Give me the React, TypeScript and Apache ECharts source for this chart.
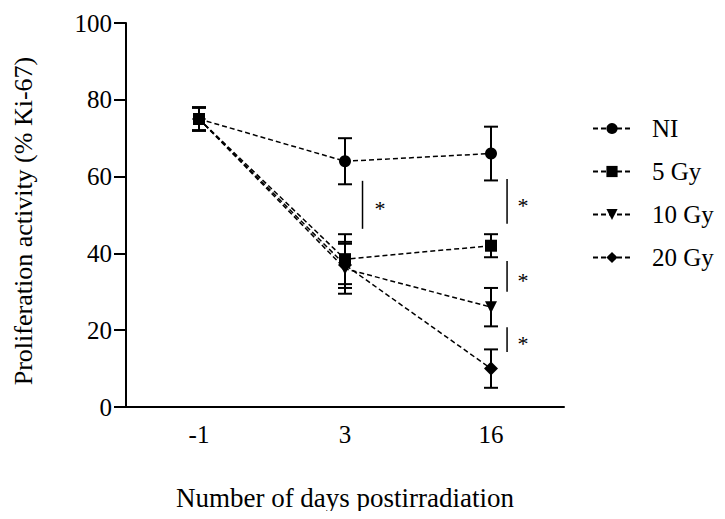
import React, { useEffect, useRef } from "react";
import * as echarts from "echarts";

const categories = ["-1", "3", "16"];
const seriesNames = ["NI", "5 Gy", "10 Gy", "20 Gy"];
const niMean = [75, 64, 66];
const niErr = [3, 6, 7];
const gy5Mean = [75, 38.5, 42];
const gy5Err = [3, 6.5, 3];
const gy10Mean = [75, 36, 26];
const gy10Err = [3, 6.5, 5];
const gy20Mean = [75, 37, 10];
const gy20Err = [3, 6, 5];
const yTicks = [0, 20, 40, 60, 80, 100];
// significance brackets: [x position on a -0.5..2.5 scale, low, high]
const brackets = [
  [1.12, 46.4, 58.9],
  [2.11, 47.7, 59.4],
  [2.11, 30, 38],
  [2.11, 14.3, 20.8],
];
const asteriskX = [1.24, 2.22, 2.22, 2.22];

const FONT = "Liberation Serif";

export default function App() {
  const ref = useRef<HTMLDivElement>(null);
  useEffect(() => {
    const chart = echarts.init(ref.current!, null, { renderer: "svg" });
    const means = [niMean, gy5Mean, gy10Mean, gy20Mean];
    const errs = [niErr, gy5Err, gy10Err, gy20Err];
    const symbols = ["circle", "rect", "triangle", "diamond"];
    const sizes = [12, 12, 12, 14];
    const rotates = [0, 0, 180, 0];

    const lineSeries = seriesNames.map((name, i) => ({
      name,
      type: "line",
      xAxisIndex: 0,
      data: means[i],
      symbol: symbols[i],
      symbolSize: sizes[i],
      symbolRotate: rotates[i],
      itemStyle: { color: "#000" },
      lineStyle: { color: "#000", width: 1.5, type: [5, 3] },
      z: 3,
    }));

    const errData: number[][] = [];
    means.forEach((m, i) =>
      m.forEach((v, j) => errData.push([j, v - errs[i][j], v + errs[i][j]]))
    );

    const errSeries = {
      type: "custom",
      xAxisIndex: 0,
      data: errData,
      z: 2,
      renderItem: (params: any, api: any) => {
        const x = api.value(0);
        const lo = api.coord([x, api.value(1)]);
        const hi = api.coord([x, api.value(2)]);
        const hw = 7;
        const style = { stroke: "#000", lineWidth: 2 };
        return {
          type: "group",
          children: [
            { type: "line", shape: { x1: lo[0], y1: lo[1], x2: hi[0], y2: hi[1] }, style },
            { type: "line", shape: { x1: lo[0] - hw, y1: lo[1], x2: lo[0] + hw, y2: lo[1] }, style },
            { type: "line", shape: { x1: hi[0] - hw, y1: hi[1], x2: hi[0] + hw, y2: hi[1] }, style },
          ],
        };
      },
    };

    const bracketData = brackets.map((b, i) => [b[0], b[1], b[2], asteriskX[i]]);
    const bracketSeries = {
      type: "custom",
      xAxisIndex: 1,
      data: bracketData,
      renderItem: (params: any, api: any) => {
        const lo = api.coord([api.value(0), api.value(1)]);
        const hi = api.coord([api.value(0), api.value(2)]);
        const mid = api.coord([api.value(3), (api.value(1) + api.value(2)) / 2]);
        return {
          type: "group",
          children: [
            { type: "line", shape: { x1: lo[0], y1: lo[1], x2: hi[0], y2: hi[1] }, style: { stroke: "#000", lineWidth: 1.5 } },
            {
              type: "text",
              x: mid[0],
              y: mid[1] + 4,
              style: { text: "*", fill: "#000", font: `22px "${FONT}"`, align: "center", verticalAlign: "middle" },
            },
          ],
        };
      },
    };

    chart.setOption({
      animation: false,
      textStyle: { fontFamily: FONT, color: "#000" },
      grid: { left: 126, right: 161, top: 23, bottom: 112 },
      legend: {
        orient: "vertical",
        left: 587,
        top: 111,
        data: seriesNames,
        itemWidth: 38,
        itemHeight: 14,
        itemGap: 18,
        textStyle: { fontFamily: FONT, fontSize: 25, color: "#000", padding: [0, 0, 0, 16] },
      },
      xAxis: [
        {
          type: "category",
          data: categories,
          boundaryGap: true,
          axisLine: { lineStyle: { color: "#000", width: 2 } },
          axisTick: { alignWithLabel: true, length: 11, lineStyle: { color: "#000", width: 2 } },
          axisLabel: { fontFamily: FONT, fontSize: 25, color: "#000", margin: 15 },
          name: "Number of days postirradiation",
          nameLocation: "middle",
          nameGap: 77,
          nameTextStyle: { fontFamily: FONT, fontSize: 27, color: "#000" },
        },
        { type: "value", min: -0.5, max: 2.5, show: false },
      ],
      yAxis: {
        type: "value",
        min: yTicks[0],
        max: yTicks[yTicks.length - 1],
        interval: 20,
        splitLine: { show: false },
        axisLine: { show: true, onZero: false, lineStyle: { color: "#000", width: 2 } },
        axisTick: { show: true, length: 12, lineStyle: { color: "#000", width: 2 } },
        axisLabel: { fontFamily: FONT, fontSize: 25, color: "#000", margin: 14 },
        name: "Proliferation activity (% Ki-67)",
        nameLocation: "middle",
        nameGap: 90,
        nameTextStyle: { fontFamily: FONT, fontSize: 26, color: "#000", padding: [0, 12, 0, 0] },
      },
      series: [...lineSeries, errSeries, bracketSeries],
    });
    return () => chart.dispose();
  }, []);
  return <div ref={ref} style={{ width: 725, height: 519, margin: -8 }} />;
}
